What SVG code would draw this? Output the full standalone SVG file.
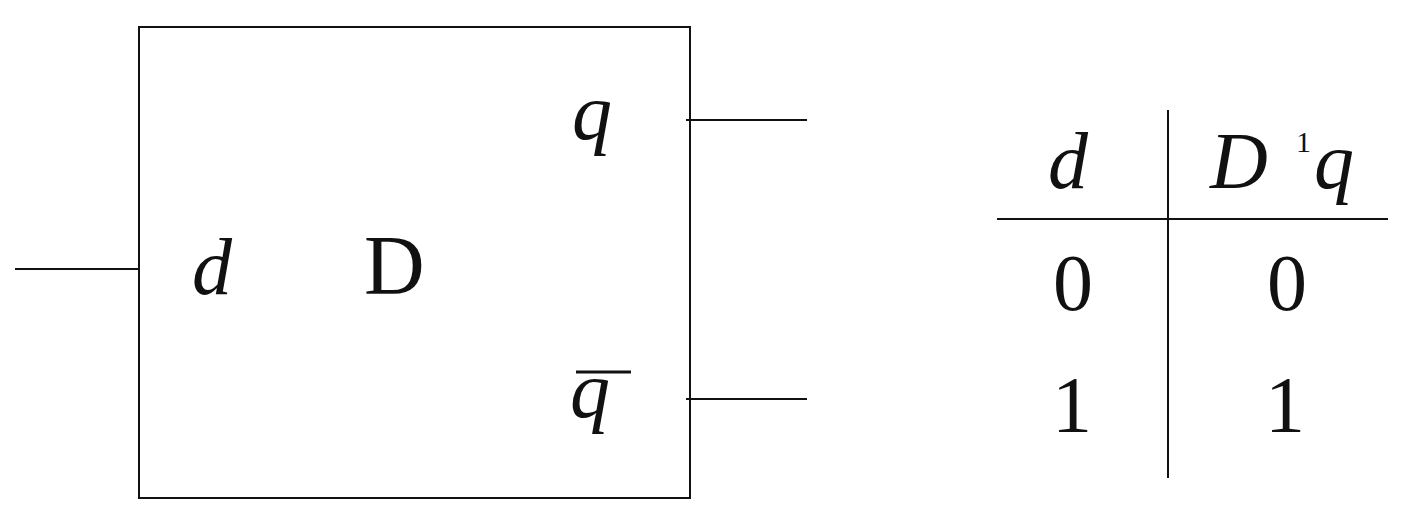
<svg xmlns="http://www.w3.org/2000/svg" width="1404" height="516" viewBox="0 0 1404 516">
<style>
.ln{stroke:#111;stroke-width:2;fill:none}
.t{font-family:"Liberation Serif","Times New Roman",serif;font-size:80px;fill:#111}
.i{font-style:italic}
.big{font-size:84px}
.sup{font-family:"Liberation Serif","Times New Roman",serif;font-size:30px;fill:#111}
</style>
<rect width="1404" height="516" fill="#fff"/>
<g id="connectors">
<line class="ln" x1="15" y1="269" x2="139" y2="269"/>
<line class="ln" x1="686" y1="120" x2="807" y2="120"/>
<line class="ln" x1="686" y1="399" x2="807" y2="399"/>
</g>
<g id="dff">
<rect class="ln" x="139" y="27" width="551" height="471"/>
<text class="t i" x="192" y="294">d</text>
<text class="t big" x="364" y="294">D</text>
<text class="t i" x="572" y="139">q</text>
<text class="t i" x="570" y="417">q</text>
<line x1="576" y1="372" x2="631" y2="372" stroke="#111" stroke-width="3"/>
</g>
<g id="table">
<line class="ln" x1="1168" y1="110" x2="1168" y2="478"/>
<line class="ln" x1="997" y1="219" x2="1388" y2="219"/>
<text class="t i" x="1068" y="188" text-anchor="middle">d</text>
<text class="t i" x="1210" y="188">D</text>
<text class="sup" x="1296" y="152">1</text>
<text class="t i" x="1314" y="188">q</text>
<text class="t" x="1073" y="310" text-anchor="middle">0</text>
<text class="t" x="1287" y="310" text-anchor="middle">0</text>
<text class="t" x="1072" y="432" text-anchor="middle">1</text>
<text class="t" x="1285" y="432" text-anchor="middle">1</text>
</g>
</svg>
